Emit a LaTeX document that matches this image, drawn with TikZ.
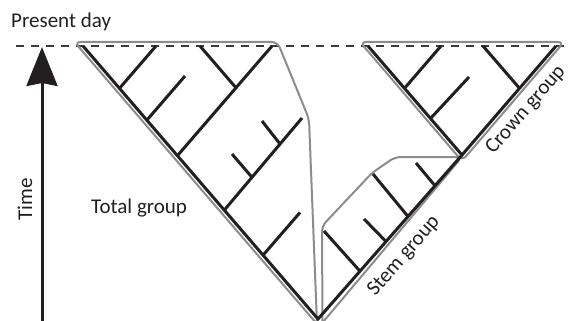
\documentclass[tikz,border=0pt]{standalone}
\usepackage{fontspec}
\setmainfont{Carlito}
\usetikzlibrary{arrows.meta}
\definecolor{inkblack}{HTML}{231F20}
\definecolor{outlinegray}{HTML}{8C8C8C}
\definecolor{dashgray}{HTML}{3A3A3A}
\tikzset{
  branch/.style={draw=inkblack, line width=3pt},
  outline/.style={draw=outlinegray, line width=2pt, rounded corners=6pt, line join=round},
  presentline/.style={draw=dashgray, line width=1.1pt, dash pattern=on 7.5pt off 7.5pt},
  label/.style={font=\fontsize{21}{24}\selectfont, text=inkblack, inner sep=0pt},
  timearrow/.style={draw=inkblack, line width=3pt, -{Stealth[length=39pt, width=31pt, inset=3pt]}}
}
\begin{document}
\begin{tikzpicture}[x=1pt, y=-1pt]
\useasboundingbox (0,0) rectangle (568,321);
% present-day line
\coordinate (dl) at (16,46);
\coordinate (dr) at (572,46);
\draw[presentline] (dl) -- (dr);
% time arrow
\coordinate (tb) at (42,324);
\coordinate (tt) at (42,47);
\draw[timearrow] (tb) -- (tt);
% labels
\node[label, anchor=base west] (present) at (11,28) {Present day};
\node[label, rotate=90] (time) at (25,199.5) {Time};
\node[label, anchor=base west] (total) at (91,213) {Total group};
\node[label, rotate=49] (stem) at (404,256) {Stem group};
\node[label, rotate=49] (crown) at (526,110) {Crown group};
% outlines
\draw[outline] (317,324) -- (74.5,42) -- (277.5,42) -- (309,119) -- (317,324);
\draw[outline] (360,42) -- (564,42) -- (462,161) -- cycle;
\draw[outline] (322.5,325) -- (322,226) -- (372,173) -- (395,157) -- (462,157) -- (320.5,325);
% root and spines
\coordinate (ltip) at (83,46);
\coordinate (root) at (318,319);
\coordinate (croot) at (462,155);
\coordinate (cl) at (368,46);
\coordinate (cr) at (556,46);
\draw[branch] (ltip) -- (root) -- (croot);
\draw[branch] (cl) -- (croot) -- (cr);
% total group (left) branches
\draw[branch] (156,46) -- (119.5,88.3);
\draw[branch] (147,120) -- (185,76);
\draw[branch] (272,46) -- (177.5,155.6);
\draw[branch] (200,46) -- (236,87.8);
\draw[branch] (224.4,210) -- (302,118);
\draw[branch] (252,177.3) -- (232,154);
\draw[branch] (280,144) -- (262,121);
\draw[branch] (263.2,255) -- (300,212.5);
% crown branches
\draw[branch] (441,46) -- (404.5,88.3);
\draw[branch] (430.5,118.5) -- (469,77);
\draw[branch] (483,46) -- (519.5,88.3);
% stem branches
\draw[branch] (360,271.2) -- (324,231);
\draw[branch] (386,241.5) -- (364,219);
\draw[branch] (408,216.5) -- (373,174);
\draw[branch] (435,185.7) -- (416,163);
\end{tikzpicture}
\end{document}
